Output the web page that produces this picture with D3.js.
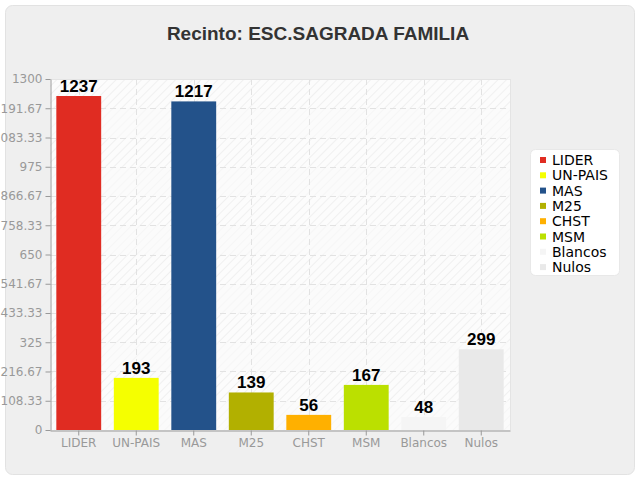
<!DOCTYPE html>
<html><head><meta charset="utf-8">
<script src="https://cdn.jsdelivr.net/npm/d3@7"></script>
<style>body{margin:0;background:#fff;}svg{display:block;font-family:"DejaVu Sans",sans-serif;}</style>
</head><body>
<svg id="c" width="640" height="480"></svg>
<script>
const categories = ["LIDER","UN-PAIS","MAS","M25","CHST","MSM","Blancos","Nulos"];
const values = [1237,193,1217,139,56,167,48,299];
const colors = ["#e02c22","#f5ff00","#23528a","#b2b000","#ffb000","#bbe000","#f5f5f5","#e9e9e9"];
const yTicks = [0,108.33,216.67,325,433.33,541.67,650,758.33,866.67,975,1083.33,1191.67,1300];
const title = "Recinto: ESC.SAGRADA FAMILIA";

const svg = d3.select("#c");
const defs = svg.append("defs");
const pat = defs.append("pattern").attr("id","hatch").attr("patternUnits","userSpaceOnUse")
  .attr("width",6).attr("height",6).attr("patternTransform","rotate(45)");
pat.append("rect").attr("width",6).attr("height",6).attr("fill","#fcfcfc");
pat.append("line").attr("x1",0).attr("y1",0).attr("x2",0).attr("y2",6).attr("stroke","#ededed").attr("stroke-width",1.5);

svg.append("rect").attr("x",5.5).attr("y",5.5).attr("width",629).attr("height",469).attr("rx",7)
  .attr("fill","#efefef").attr("stroke","#e2e2e2");

svg.append("text").attr("x",318).attr("y",40).attr("text-anchor","middle")
  .attr("font-family","Liberation Sans, Arial, sans-serif").attr("font-weight","bold")
  .attr("font-size",19).attr("fill","#333").text(title);

const L=50,R=510,T=79,B=430;
const x = d3.scaleBand().domain(categories).range([L,R]).paddingInner(0.22).paddingOuter(0.11);
const y = d3.scaleLinear().domain([0,1300]).range([B,T]);

svg.append("rect").attr("x",L).attr("y",T).attr("width",R-L).attr("height",B-T).attr("fill","url(#hatch)");
for(let i=0;i<yTicks.length-1;i++){
  if(i%2===0){
    svg.append("rect").attr("x",L).attr("width",R-L).attr("y",y(yTicks[i+1])).attr("height",y(yTicks[i])-y(yTicks[i+1]))
      .attr("fill","#fafafa").attr("opacity",0.6);
  }
}
const g = svg.append("g");
g.selectAll(".hg").data(yTicks.slice(1)).join("line").attr("x1",L).attr("x2",R)
  .attr("y1",d=>Math.round(y(d))+0.5).attr("y2",d=>Math.round(y(d))+0.5)
  .attr("stroke","#e2e2e2").attr("stroke-dasharray","6,4");
g.selectAll(".vg").data(categories).join("line")
  .attr("x1",d=>Math.round(x(d)+x.bandwidth()/2)+0.5).attr("x2",d=>Math.round(x(d)+x.bandwidth()/2)+0.5)
  .attr("y1",T).attr("y2",B).attr("stroke","#e2e2e2").attr("stroke-dasharray","6,4");
svg.append("line").attr("x1",R+0.5).attr("x2",R+0.5).attr("y1",T).attr("y2",B).attr("stroke","#e4e4e4");
svg.append("line").attr("x1",L).attr("x2",R).attr("y1",T+0.5).attr("y2",T+0.5).attr("stroke","#e4e4e4");

svg.selectAll(".bar").data(values).join("rect")
  .attr("x",(d,i)=>x(categories[i])).attr("width",x.bandwidth())
  .attr("y",d=>y(d)).attr("height",d=>B-y(d)).attr("fill",(d,i)=>colors[i]);
svg.selectAll(".val").data(values).join("text")
  .attr("x",(d,i)=>x(categories[i])+x.bandwidth()/2).attr("y",d=>y(d)-4)
  .attr("text-anchor","middle").attr("font-family","Liberation Sans, Arial, sans-serif")
  .attr("font-weight","bold").attr("font-size",17).attr("fill","#000").text(d=>d);

const yAxis = svg.append("g").attr("transform",`translate(${L+0.5},0)`)
  .call(d3.axisLeft(y).tickValues(yTicks).tickSize(5).tickSizeOuter(0).tickFormat(d=>String(d)));
const xAxis = svg.append("g").attr("transform",`translate(0,${B+0.5})`)
  .call(d3.axisBottom(x).tickSize(5).tickSizeOuter(0));
[yAxis,xAxis].forEach(a=>{
  a.select(".domain").attr("stroke","#999");
  a.selectAll(".tick line").attr("stroke","#999");
  a.selectAll(".tick text").attr("fill","#999").attr("font-size",12).attr("font-family","DejaVu Sans, sans-serif");
});
yAxis.selectAll(".tick text").attr("x",-8);
xAxis.selectAll(".tick text").attr("y",8);

const lg = svg.append("g");
lg.append("rect").attr("x",530.5).attr("y",149.5).attr("width",89).attr("height",126).attr("rx",5)
  .attr("fill","#fff").attr("stroke","#e8e8e8");
const items = lg.selectAll(".li").data(categories).join("g")
  .attr("transform",(d,i)=>`translate(540,${160+i*15.3})`);
items.append("rect").attr("x",0).attr("y",-3).attr("width",6).attr("height",6).attr("fill",(d,i)=>colors[i]);
items.append("text").attr("x",12).attr("y",5).attr("font-size",14).attr("fill","#000")
  .attr("font-family","DejaVu Sans, sans-serif").text(d=>d);
</script>
</body></html>
